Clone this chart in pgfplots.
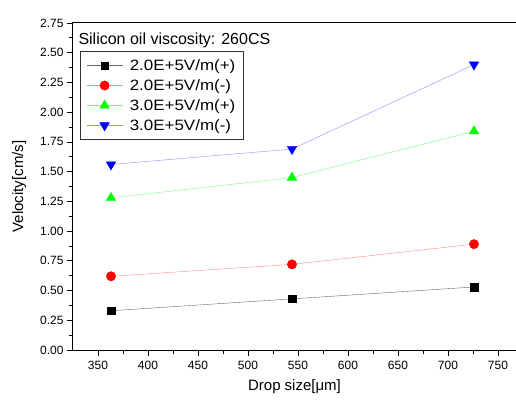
\documentclass[border=0pt]{standalone}
\usepackage{fontspec}
\setmainfont{Liberation Sans}
\newfontfamily\legfont[FakeStretch=1.13]{Liberation Sans}
\usepackage{pgfplots}
\pgfplotsset{compat=1.18}
\newcommand{\lf}{\legfont\fontsize{15}{17}\selectfont}
\pgfplotsset{myleg/.style={legend image code/.code={\draw[mark repeat=2, mark phase=2, line width=0.4pt]
    plot coordinates {(0pt,0pt) (18pt,0pt) (36pt,0pt)};}}}
\begin{document}
\begin{tikzpicture}
\begin{axis}[name=ax, scale only axis, width=443pt, height=327pt,
  xmin=325, xmax=768, ymin=0, ymax=2.75,
  xtick={350,400,...,750}, ytick={0,0.25,...,2.75},
  minor x tick num=1, minor y tick num=1,
  tick align=outside, xtick pos=left, ytick pos=left,
  major tick length=6pt, minor tick length=3.5pt,
  axis line style={line width=1pt},
  every tick/.style={line width=0.8pt, black},
  /pgf/number format/assume math mode=true,
  ticklabel style={font=\fontsize{12}{14}\selectfont},
  yticklabel style={/pgf/number format/.cd, fixed, fixed zerofill, precision=2},
  xticklabel style={/pgf/number format/.cd, fixed, precision=0},
  xticklabel shift=2pt,
  xlabel={Drop size[μm]}, ylabel={Velocity[cm/s]},
  label style={font=\fontsize{15}{17}\selectfont},
  xlabel shift=3pt, ylabel shift=7pt,
  legend style={at={(0.0158,0.913)}, anchor=north west, draw=black!80, line width=0.8pt,
    row sep=3.6pt, inner xsep=6pt, inner ysep=5.5pt,
    /tikz/every odd column/.style={column sep=5pt}},
  legend cell align=left,
]
\addplot[myleg, black!60, line width=0.4pt, mark=square*, mark size=3.8pt, mark options={fill=black, draw=black, solid}]
  coordinates {(363,0.33) (544,0.43) (726,0.53)};
\addlegendentry{\lf 2.0E+5V/m(+)}
\addplot[myleg, red!45, line width=0.4pt, mark=*, mark size=4.7pt, mark options={fill=red, draw=red}]
  coordinates {(363,0.62) (544,0.72) (726,0.89)};
\addlegendentry{\lf 2.0E+5V/m(-)}
\addplot[myleg, green!55, line width=0.4pt, mark=triangle*, mark size=5.5pt, mark options={fill=green, draw=green}]
  coordinates {(363,1.28) (544,1.45) (726,1.84)};
\addlegendentry{\lf 3.0E+5V/m(+)}
\addplot[myleg, blue!45, line width=0.4pt, mark=triangle*, mark size=5.5pt, mark options={fill=blue, draw=blue, rotate=180}]
  coordinates {(363,1.56) (544,1.69) (726,2.40)};
\addlegendentry{\lf 3.0E+5V/m(-)}
\node[anchor=west, font=\fontsize{16}{18}\selectfont, inner sep=0pt] at (rel axis cs:0.012,0.948) {Silicon oil viscosity: 260CS};
\end{axis}
\pgfresetboundingbox
\path (ax.south west) ++(-73pt,-49pt) coordinate (bl);
\path (ax.north east) ++(0pt,23pt) coordinate (tr);
\path (bl) rectangle (tr);
\end{tikzpicture}
\end{document}
